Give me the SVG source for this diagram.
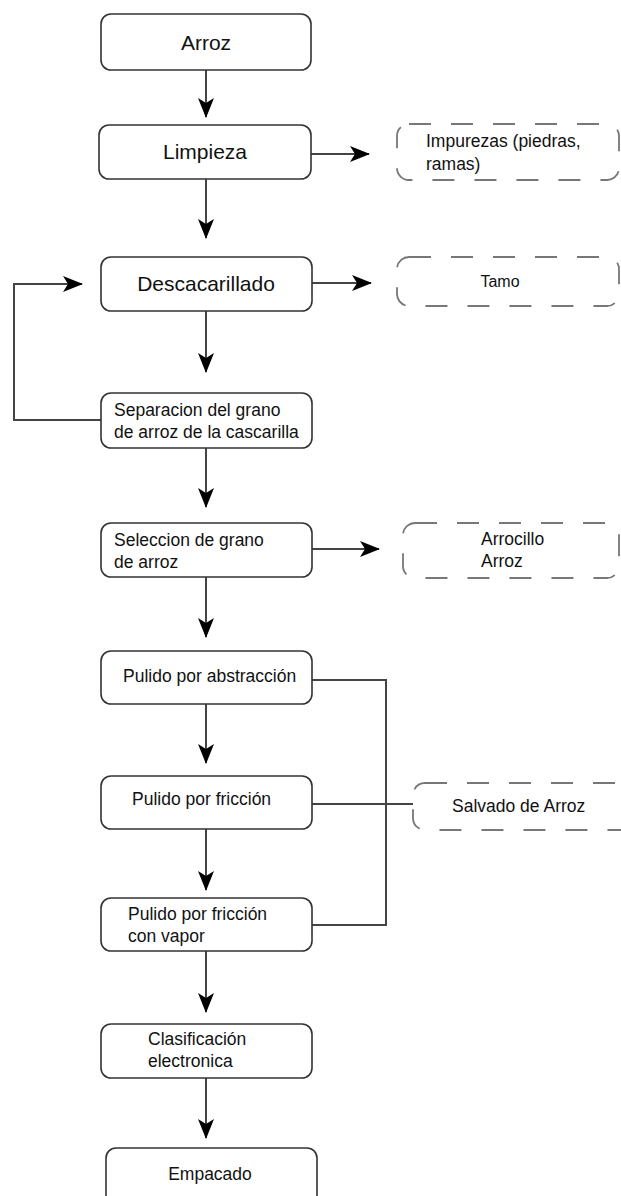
<svg xmlns="http://www.w3.org/2000/svg" width="621" height="1196" viewBox="0 0 621 1196">
<style>
.box{fill:#fff;stroke:#333;stroke-width:1.6}
.dbox{fill:#fff;stroke:#777;stroke-width:1.8;stroke-dasharray:22 20}
.conn{fill:none;stroke:#444;stroke-width:2}
text{font-family:"Liberation Sans",Arial,sans-serif;fill:#111}
.big{font-size:21px}
.sm{font-size:17.5px}
.mid{text-anchor:middle}
</style>
<defs>
<marker id="arr" viewBox="0 0 20 16" refX="19" refY="8" markerWidth="20" markerHeight="16" markerUnits="userSpaceOnUse" orient="auto">
<path d="M0,0 L20,8 L0,16 L5,8 Z" fill="#000"/>
</marker>
</defs>
<rect width="621" height="1196" fill="#fff"/>
<g id="connectors">
<line class="conn" x1="206" y1="70" x2="206" y2="117" marker-end="url(#arr)"/>
<line class="conn" x1="206" y1="179" x2="206" y2="238" marker-end="url(#arr)"/>
<line class="conn" x1="206" y1="311" x2="206" y2="372" marker-end="url(#arr)"/>
<line class="conn" x1="206" y1="448" x2="206" y2="507" marker-end="url(#arr)"/>
<line class="conn" x1="206" y1="577" x2="206" y2="637" marker-end="url(#arr)"/>
<line class="conn" x1="206" y1="704" x2="206" y2="763" marker-end="url(#arr)"/>
<line class="conn" x1="206" y1="829" x2="206" y2="890" marker-end="url(#arr)"/>
<line class="conn" x1="206" y1="951" x2="206" y2="1012" marker-end="url(#arr)"/>
<line class="conn" x1="206" y1="1078" x2="206" y2="1138" marker-end="url(#arr)"/>
<line class="conn" x1="311" y1="154" x2="369" y2="154" marker-end="url(#arr)"/>
<line class="conn" x1="312" y1="283" x2="371" y2="283" marker-end="url(#arr)"/>
<line class="conn" x1="312" y1="549" x2="379" y2="549" marker-end="url(#arr)"/>
<polyline class="conn" points="101,420 14,420 14,284 82,284" marker-end="url(#arr)"/>
<polyline class="conn" points="312,680 386,680 386,925 312,925"/>
<line class="conn" x1="312" y1="804" x2="413" y2="804"/>
</g>
<g id="n-arroz"><rect class="box" x="101" y="14" width="210" height="56" rx="10"/><text class="big mid" x="206" y="50">Arroz</text></g>
<g id="n-limpieza"><rect class="box" x="99" y="125" width="212" height="54" rx="10"/><text class="big mid" x="205" y="159">Limpieza</text></g>
<g id="n-impurezas"><rect class="dbox" x="397" y="124" width="222" height="56" rx="12"/><text class="sm" x="426" y="147">Impurezas (piedras,</text><text class="sm" x="426" y="170">ramas)</text></g>
<g id="n-descacarillado"><rect class="box" x="101" y="257" width="211" height="54" rx="10"/><text class="big mid" x="206" y="291">Descacarillado</text></g>
<g id="n-tamo"><rect class="dbox" x="397" y="257" width="222" height="49" rx="12"/><text class="mid" style="font-size:16px" x="500" y="287">Tamo</text></g>
<g id="n-separacion"><rect class="box" x="101" y="393" width="211" height="55" rx="10"/><text class="sm" x="114" y="416">Separacion del grano</text><text class="sm" x="114" y="438">de arroz de la cascarilla</text></g>
<g id="n-seleccion"><rect class="box" x="101" y="523" width="211" height="54" rx="10"/><text class="sm" x="114" y="546">Seleccion de grano</text><text class="sm" x="114" y="568">de arroz</text></g>
<g id="n-arrocillo"><rect class="dbox" x="403" y="523" width="216" height="55" rx="12"/><text class="sm" x="481" y="545">Arrocillo</text><text class="sm" x="481" y="567">Arroz</text></g>
<g id="n-abstraccion"><rect class="box" x="101" y="651" width="211" height="53" rx="10"/><text class="sm" x="123" y="682">Pulido por abstracción</text></g>
<g id="n-friccion"><rect class="box" x="101" y="776" width="211" height="53" rx="10"/><text class="sm" x="132" y="805">Pulido por fricción</text></g>
<g id="n-salvado"><rect class="dbox" x="413" y="783" width="222" height="47" rx="12"/><text class="sm" x="452" y="812">Salvado de Arroz</text></g>
<g id="n-vapor"><rect class="box" x="101" y="898" width="211" height="53" rx="10"/><text class="sm" x="128" y="920">Pulido por fricción</text><text class="sm" x="128" y="942">con vapor</text></g>
<g id="n-clasificacion"><rect class="box" x="101" y="1024" width="211" height="54" rx="10"/><text class="sm" x="148" y="1045">Clasificación</text><text class="sm" x="148" y="1067">electronica</text></g>
<g id="n-empacado"><rect class="box" x="106" y="1148" width="211" height="60" rx="10"/><text class="sm mid" x="210" y="1180">Empacado</text></g>
</svg>
